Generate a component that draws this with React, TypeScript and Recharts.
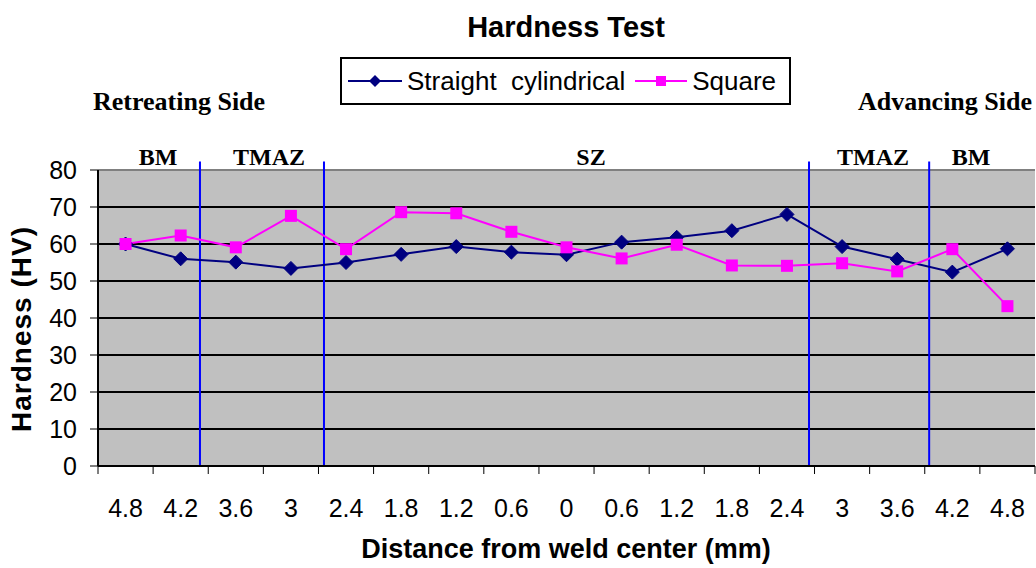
import React from "react";
import {
  LineChart,
  Line,
  XAxis,
  YAxis,
  CartesianGrid,
  ReferenceLine,
  Legend,
} from "recharts";

// distance labels along the weld, left (retreating) to right (advancing)
const positions = ["4.8", "4.2", "3.6", "3", "2.4", "1.8", "1.2", "0.6", "0", "0.6", "1.2", "1.8", "2.4", "3", "3.6", "4.2", "4.8"];
const straightCylindrical = [60.0, 56.0, 55.1, 53.4, 55.0, 57.2, 59.3, 57.8, 57.1, 60.5, 61.8, 63.6, 68.0, 59.3, 55.9, 52.4, 58.7];
const square = [60.0, 62.3, 59.1, 67.6, 58.6, 68.6, 68.3, 63.3, 59.1, 56.1, 59.8, 54.2, 54.1, 54.8, 52.6, 58.6, 43.2];
const yTicks = [0, 10, 20, 30, 40, 50, 60, 70, 80];
// zone boundaries, in category index units
const zoneBounds = [1.35, 3.6, 12.4, 14.58];
const zones = [
  { name: "BM", x: 158 },
  { name: "TMAZ", x: 269 },
  { name: "SZ", x: 591 },
  { name: "TMAZ", x: 873 },
  { name: "BM", x: 971 },
];

const data = positions.map((p, i) => ({
  idx: i,
  label: p,
  straight: straightCylindrical[i],
  square: square[i],
}));

const W = 1036;
const H = 568;
const PLOT_LEFT = 98;
const PLOT_RIGHT = 1;
const PLOT_TOP = 170;
const PLOT_BOTTOM = 466;
const HALF = (W - PLOT_LEFT - PLOT_RIGHT) / positions.length / 2;

const NAVY = "#000080";
const MAGENTA = "#ff00ff";
const SANS = "'Liberation Sans', Arial, sans-serif";
const SERIF = "'Liberation Serif', 'Times New Roman', serif";

const Diamond = (props: any) => {
  const { cx, cy } = props;
  if (cx == null || cy == null) return null;
  const r = 7;
  return (
    <path
      d={`M${cx},${cy - r}L${cx + r},${cy}L${cx},${cy + r}L${cx - r},${cy}Z`}
      fill={NAVY}
      stroke={NAVY}
    />
  );
};

const Square = (props: any) => {
  const { cx, cy } = props;
  if (cx == null || cy == null) return null;
  const r = 6;
  return <rect x={cx - r} y={cy - r} width={r * 2} height={r * 2} fill={MAGENTA} />;
};

const XTick = (props: any) => {
  const { x, payload } = props;
  const i = payload.value;
  return (
    <g>
      <line x1={x - HALF} x2={x - HALF} y1={PLOT_BOTTOM} y2={PLOT_BOTTOM + 8} stroke="#000" />
      {i === positions.length - 1 && (
        <line x1={x + HALF} x2={x + HALF} y1={PLOT_BOTTOM} y2={PLOT_BOTTOM + 8} stroke="#000" />
      )}
      <text x={x} y={PLOT_BOTTOM + 51} textAnchor="middle" fontSize={25} fontFamily={SANS} fill="#000">
        {positions[i]}
      </text>
    </g>
  );
};

const LegendBox = () => (
  <div
    style={{
      border: "2px solid #000",
      background: "#fff",
      height: 48,
      boxSizing: "border-box",
      display: "flex",
      alignItems: "center",
      fontFamily: SANS,
      fontSize: 26,
      whiteSpace: "pre",
      paddingLeft: 6,
      color: "#000",
    }}
  >
    <svg width={54} height={20}>
      <line x1={0} x2={54} y1={10} y2={10} stroke={NAVY} strokeWidth={2} />
      <path d="M27,4L33,10L27,16L21,10Z" fill={NAVY} />
    </svg>
    <span style={{ marginLeft: 5 }}>Straight  cylindrical</span>
    <svg width={52} height={20} style={{ marginLeft: 10 }}>
      <line x1={0} x2={52} y1={10} y2={10} stroke={MAGENTA} strokeWidth={2} />
      <rect x={21} y={5} width={10} height={10} fill={MAGENTA} />
    </svg>
    <span style={{ marginLeft: 5 }}>Square</span>
  </div>
);

const abs = (extra: React.CSSProperties): React.CSSProperties => ({
  position: "absolute",
  whiteSpace: "nowrap",
  lineHeight: 1,
  color: "#000",
  ...extra,
});

export default function App() {
  return (
    <div style={{ position: "fixed", left: 0, top: 0, width: W, height: H, background: "#fff", overflow: "hidden" }}>
      <LineChart
        width={W}
        height={H}
        data={data}
        margin={{ top: PLOT_TOP, right: PLOT_RIGHT, bottom: 42, left: PLOT_LEFT - 44 }}
      >
        <CartesianGrid
          vertical={false}
          horizontalValues={[10, 20, 30, 40, 50, 60, 70]}
          stroke="#000"
          strokeWidth={2}
          fill="#c0c0c0"
        />
        <XAxis
          dataKey="idx"
          type="number"
          domain={[-0.5, positions.length - 0.5]}
          ticks={data.map((d) => d.idx)}
          interval={0}
          tickLine={false}
          tick={<XTick />}
          axisLine={{ stroke: "#000", strokeWidth: 2 }}
          height={60}
        />
        <YAxis
          domain={[0, 80]}
          ticks={yTicks}
          interval={0}
          width={44}
          tickSize={8}
          tickMargin={13}
          tick={{ fontSize: 25, fontFamily: SANS, fill: "#000" }}
          tickLine={{ stroke: "#000" }}
          axisLine={{ stroke: "#000", strokeWidth: 2 }}
        />
        <ReferenceLine y={80} stroke="#808080" strokeWidth={2} />
        {zoneBounds.map((b) => (
          <ReferenceLine
            key={b}
            segment={[
              { x: b, y: 0 },
              { x: b, y: 82.3 },
            ]}
            ifOverflow="visible"
            stroke="#0000ff"
            strokeWidth={2}
          />
        ))}
        <Line
          dataKey="straight"
          name="Straight  cylindrical"
          stroke={NAVY}
          strokeWidth={2}
          dot={<Diamond />}
          isAnimationActive={false}
        />
        <Line
          dataKey="square"
          name="Square"
          stroke={MAGENTA}
          strokeWidth={2}
          dot={<Square />}
          isAnimationActive={false}
        />
        <Legend
          layout="horizontal"
          verticalAlign="middle"
          align="center"
          content={<LegendBox />}
          wrapperStyle={{ position: "absolute", left: 340, top: 57, width: 451, height: 48 }}
        />
      </LineChart>

      <div style={abs({ left: 0, width: 1132, top: 13, textAlign: "center", fontFamily: SANS, fontWeight: "bold", fontSize: 29 })}>
        Hardness Test
      </div>
      <div style={abs({ left: 93, top: 89, fontFamily: SERIF, fontWeight: "bold", fontSize: 26 })}>Retreating Side</div>
      <div style={abs({ right: 4, top: 89, fontFamily: SERIF, fontWeight: "bold", fontSize: 26 })}>Advancing Side</div>
      {zones.map((z, i) => (
        <div
          key={i}
          style={abs({ left: z.x - 60, width: 120, top: 145, textAlign: "center", fontFamily: SERIF, fontWeight: "bold", fontSize: 24 })}
        >
          {z.name}
        </div>
      ))}
      <div
        style={abs({
          left: 22 - 120,
          width: 240,
          top: 329 - 14,
          textAlign: "center",
          transform: "rotate(-90deg)",
          fontFamily: SANS,
          fontWeight: "bold",
          fontSize: 28,
          letterSpacing: 1,
        })}
      >
        Hardness (HV)
      </div>
      <div style={abs({ left: 0, width: 1132, top: 536, textAlign: "center", fontFamily: SANS, fontWeight: "bold", fontSize: 27 })}>
        Distance from weld center (mm)
      </div>
    </div>
  );
}
